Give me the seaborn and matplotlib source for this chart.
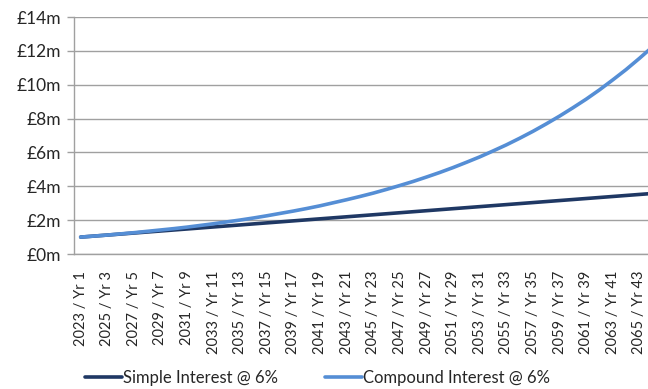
import numpy as np
import pandas as pd
import matplotlib
matplotlib.use("Agg")
import matplotlib.pyplot as plt
import seaborn as sns

# values in £m (Yr 1 = 2023)
years = list(range(2023, 2067))
yr_nums = list(range(1, 45))
simple = [1.00, 1.06, 1.12, 1.18, 1.24, 1.30, 1.36, 1.42, 1.48, 1.54,
          1.60, 1.66, 1.72, 1.78, 1.84, 1.90, 1.96, 2.02, 2.08, 2.14,
          2.20, 2.26, 2.32, 2.38, 2.44, 2.50, 2.56, 2.62, 2.68, 2.74,
          2.80, 2.86, 2.92, 2.98, 3.04, 3.10, 3.16, 3.22, 3.28, 3.34,
          3.40, 3.46, 3.52, 3.58]
compound = [1.00, 1.06, 1.12, 1.19, 1.26, 1.34, 1.42, 1.50, 1.59, 1.69,
            1.79, 1.90, 2.01, 2.13, 2.26, 2.40, 2.54, 2.69, 2.85, 3.03,
            3.21, 3.40, 3.60, 3.82, 4.05, 4.29, 4.55, 4.82, 5.11, 5.42,
            5.74, 6.09, 6.45, 6.84, 7.25, 7.69, 8.15, 8.64, 9.15, 9.70,
            10.29, 10.90, 11.56, 12.25]
cat_labels = [f"{y} / Yr {n}" for y, n in zip(years, yr_nums)]

idx = np.arange(len(years))
df = pd.DataFrame({
    "idx": np.concatenate([idx, idx]),
    "value": simple + compound,
    "series": ["Simple Interest @ 6%"] * len(idx) + ["Compound Interest @ 6%"] * len(idx),
})

sns.set_style("white")
plt.rcParams['font.family'] = ['Lato', 'DejaVu Sans']
grey = "#A0A0A0"
navy = "#1F3864"
light = "#558ED5"

fig = plt.figure(figsize=(6.48, 3.89), dpi=100)
ax = fig.add_axes([0.1142, 0.347, 0.8858, 0.609])

sns.lineplot(data=df, x="idx", y="value", hue="series",
             palette={"Simple Interest @ 6%": navy,
                      "Compound Interest @ 6%": light},
             linewidth=2.6, ax=ax, legend=False)

ax.set_yticks(np.arange(0, 15, 2))
ax.set_yticklabels([f"£{v}m" for v in range(0, 15, 2)], fontsize=12.5)
ax.yaxis.grid(True, color=grey, linewidth=1)
ax.set_axisbelow(True)

ax.set_xticks(idx[::2])
ax.set_xticklabels(cat_labels[::2], rotation=90, fontsize=10.5)
ax.set_xticks(np.arange(-0.5, len(idx), 1), minor=True)
ax.tick_params(axis="x", which="major", length=0, pad=12)
ax.tick_params(axis="x", which="minor", length=5, color=grey, width=1)
ax.tick_params(axis="y", length=5, color=grey, width=1, pad=4, left=True)
ax.set_xlabel("")
ax.set_ylabel("")
ax.set_xlim(-0.5, 42.65)
ax.set_ylim(0, 14)

for s in ["top", "right"]:
    ax.spines[s].set_visible(False)
for s in ["left", "bottom"]:
    ax.spines[s].set_color(grey)
    ax.spines[s].set_linewidth(1)

handles = [plt.Line2D([], [], color=navy, linewidth=2.6),
           plt.Line2D([], [], color=light, linewidth=2.6)]
fig.legend(handles, ["Simple Interest @ 6%", "Compound Interest @ 6%"],
           loc="center", bbox_to_anchor=(0.49, 0.028), ncol=2, frameon=False,
           fontsize=12, handlelength=2.2, handletextpad=0.1, columnspacing=2.8)

fig.savefig("out.png", dpi=100)
